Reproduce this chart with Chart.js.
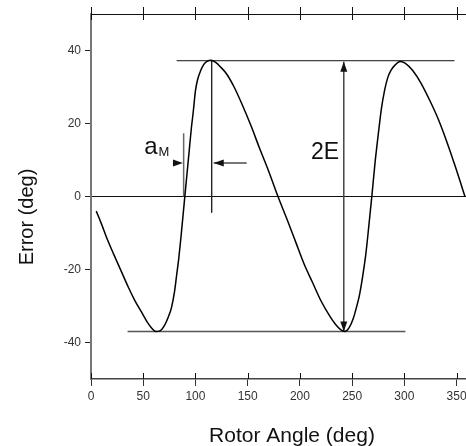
<!DOCTYPE html>
<html>
<head>
<meta charset="utf-8">
<script src="https://cdn.jsdelivr.net/npm/chart.js@4.4.1/dist/chart.umd.min.js"></script>
<style>
  body { margin: 0; background: #fff; }
  #wrap { width: 466px; height: 446px; }
</style>
</head>
<body>
<div id="wrap"><canvas id="myChart"></canvas></div>
<script>
// curve
var angle = [5, 10, 16, 22, 29, 36, 42, 48, 54, 58, 62, 66, 70, 74, 77, 80, 82, 84, 86, 88,
             90, 92, 94, 96, 98, 100, 102, 105, 108, 111, 115, 119, 124, 130, 137, 145, 153, 161, 170, 179,
             188, 196, 204, 212, 220, 228, 234, 239, 243, 247, 251, 254, 257, 260, 263, 266, 269, 272, 275, 278,
             281, 284, 287, 291, 296, 301, 308, 316, 324, 332, 340, 349, 358];
var error = [-4, -7.5, -12, -16, -20.5, -25, -28.5, -31.5, -34.5, -36, -37, -36.8, -35.5, -33, -30.5, -26, -21.5, -17, -11.5, -5.5,
             0.5, 6.5, 12.5, 18.5, 23.5, 29, 32, 34.5, 36.2, 37, 37.3, 36.8, 35.5, 33.5, 30, 25, 19.5, 13.5, 7, 0,
             -6.5, -12.5, -18.5, -23.5, -28.5, -32.5, -35, -36.5, -37, -36, -33.5, -30.5, -27, -22, -16, -8, 0.5, 9.5, 17, 24,
             29, 32.5, 34.5, 36, 37, 36.5, 34.5, 31, 26.5, 21.5, 15.5, 8, 0];

var xTicks = [0, 50, 100, 150, 200, 250, 300, 350];
var yTicks = [-40, -20, 0, 20, 40];

// guide lines drawn on the figure
var peakLineX = [82, 348],     peakLineY = [37.2, 37.2];
var troughLineX = [35, 301],   troughLineY = [-37, -37];
var peakMarkX = [115.5, 115.5], peakMarkY = [37.2, -4.4];
var aMarkX = [88.7, 88.7],     aMarkY = [17.3, 0];
var rightArrowX = [78.5, 88.0], rightArrowY = [9.2, 9.2];
var leftArrowX = [149, 117.5], leftArrowY = [9.2, 9.2];
var twoEX = [242, 242],        twoEY = [-37, 36.9];

function pts(xs, ys) {
    return xs.map(function (x, i) { return { x: x, y: ys[i] }; });
}

function guide(xs, ys, color, width, heads, noLine) {
    return {
        data: pts(xs, ys),
        borderColor: color,
        borderWidth: width,
        pointRadius: 0,
        showLine: !noLine,
        heads: heads
    };
}

var FONT = "'Liberation Sans', Arial, sans-serif";

var arrowHeads = {
    id: 'arrowHeads',
    afterDatasetsDraw: function (chart) {
        var ctx = chart.ctx;
        chart.data.datasets.forEach(function (ds, i) {
            if (!ds.heads) return;
            var p = chart.getDatasetMeta(i).data;
            ds.heads.forEach(function (end) {
                var tip = end === 'end' ? p[p.length - 1] : p[0];
                var from = end === 'end' ? p[p.length - 2] : p[1];
                var ang = Math.atan2(tip.y - from.y, tip.x - from.x);
                ctx.save();
                ctx.translate(tip.x, tip.y);
                ctx.rotate(ang);
                ctx.beginPath();
                ctx.moveTo(0, 0);
                ctx.lineTo(-10, -3.5);
                ctx.lineTo(-10, 3.5);
                ctx.closePath();
                ctx.fillStyle = '#111';
                ctx.fill();
                ctx.restore();
            });
        });
    }
};

var frame = {
    id: 'frame',
    afterDraw: function (chart) {
        var ctx = chart.ctx, a = chart.chartArea, x = chart.scales.x, y = chart.scales.y;
        ctx.save();
        ctx.strokeStyle = '#111';
        ctx.lineWidth = 1;
        ctx.beginPath();
        ctx.moveTo(a.left, a.top + 0.5);
        ctx.lineTo(a.right, a.top + 0.5);
        x.ticks.forEach(function (t) {
            var px = Math.round(x.getPixelForValue(t.value)) + 0.5;
            ctx.moveTo(px, a.top - 7);
            ctx.lineTo(px, a.top + 6);
            ctx.moveTo(px, a.bottom - 6);
            ctx.lineTo(px, a.bottom);
        });
        ctx.stroke();

        // annotations
        ctx.fillStyle = '#111';
        ctx.textBaseline = 'alphabetic';
        ctx.textAlign = 'left';
        var ax = x.getPixelForValue(51), ay = y.getPixelForValue(11.6);
        ctx.font = '24px ' + FONT;
        ctx.fillText('a', ax, ay);
        var w = ctx.measureText('a').width;
        ctx.font = '13px ' + FONT;
        ctx.fillText('M', ax + w + 1, ay + 2);

        ctx.font = '23px ' + FONT;
        ctx.textAlign = 'right';
        ctx.fillText('2E', x.getPixelForValue(237.5), y.getPixelForValue(10.3));

        // axis titles
        ctx.fillStyle = '#111';
        ctx.font = '21px ' + FONT;
        ctx.textAlign = 'center';
        ctx.fillText('Rotor Angle (deg)', 292, 441.5);
        ctx.font = '20px ' + FONT;
        ctx.translate(32.5, 217);
        ctx.rotate(-Math.PI / 2);
        ctx.fillText('Error (deg)', 0, 0);
        ctx.restore();
    }
};

var ctx = document.getElementById('myChart').getContext('2d');
var myChart = new Chart(ctx, {
    type: 'scatter',
    data: {
        datasets: [
            {
                data: pts(angle, error),
                showLine: true,
                borderColor: '#000',
                borderWidth: 1.5,
                pointRadius: 0,
                cubicInterpolationMode: 'monotone'
            },
            guide(peakLineX, peakLineY, '#111', 1),
            guide(troughLineX, troughLineY, '#555', 1.5),
            guide(peakMarkX, peakMarkY, '#222', 1),
            guide(aMarkX, aMarkY, '#666', 1.5),
            guide(rightArrowX, rightArrowY, '#111', 1, ['end'], true),
            guide(leftArrowX, leftArrowY, '#777', 2, ['end']),
            guide(twoEX, twoEY, '#444', 1.5, ['start', 'end'])
        ]
    },
    options: {
        responsive: true,
        maintainAspectRatio: false,
        animation: false,
        layout: { padding: { top: 14, right: 0, left: 0, bottom: 0 } },
        plugins: {
            legend: { display: false },
            tooltip: { enabled: false }
        },
        scales: {
            x: {
                type: 'linear',
                min: 0,
                max: 359,
                afterBuildTicks: function (s) { s.ticks = xTicks.map(function (v) { return { value: v }; }); },
                afterFit: function (s) { s.height = 67; s.paddingLeft = 0; s.paddingRight = 0; },
                border: { display: true, color: '#444', width: 1.5 },
                grid: { drawOnChartArea: false, drawTicks: true, tickLength: 7, color: '#333' },
                ticks: { color: '#333', padding: 3, maxRotation: 0, font: { size: 12, family: FONT } }
            },
            y: {
                min: -50,
                max: 50,
                afterBuildTicks: function (s) { s.ticks = yTicks.map(function (v) { return { value: v }; }); },
                afterFit: function (s) { s.width = 91; s.paddingTop = 0; s.paddingBottom = 0; },
                border: { display: true, color: '#777', width: 2 },
                grid: {
                    color: function (c) { return c.tick && c.tick.value === 0 ? '#111' : 'rgba(0,0,0,0)'; },
                    tickColor: '#222',
                    drawTicks: true,
                    tickLength: 6
                },
                ticks: { color: '#333', padding: 4, font: { size: 12, family: FONT } }
            }
        }
    },
    plugins: [arrowHeads, frame]
});
</script>
</body>
</html>
